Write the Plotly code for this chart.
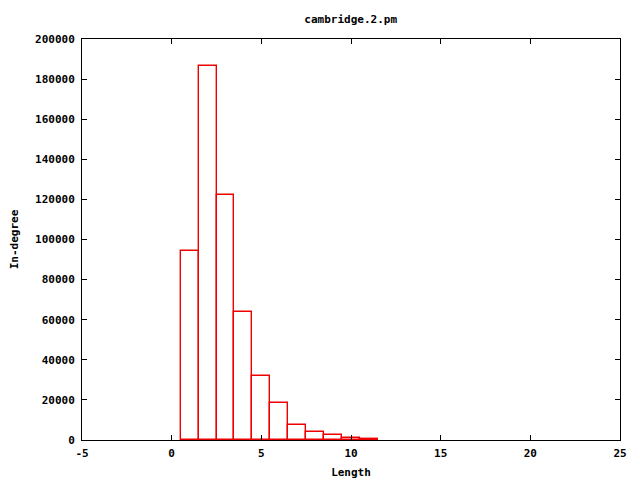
import plotly.graph_objects as go

lengths = [1, 2, 3, 4, 5, 6, 7, 8, 9, 10, 11]
indegree = [94300, 186400, 122300, 63800, 31800, 18300, 7300, 4000, 2600, 1150, 600]

title_text = "cambridge.2.pm"
x_label = "Length"
y_label = "In-degree"
x_ticks = [-5, 0, 5, 10, 15, 20, 25]
y_ticks = [0, 20000, 40000, 60000, 80000, 100000, 120000, 140000, 160000, 180000, 200000]

font_family = "DejaVu Sans Mono"
bold_font = dict(family=font_family, size=11, color="black", weight="bold")

fig = go.Figure()
fig.add_trace(go.Bar(
    x=lengths,
    y=indegree,
    width=1,
    marker=dict(color="rgba(0,0,0,0)", line=dict(color="#ee0000", width=1.4)),
    showlegend=False,
    hoverinfo="skip",
))

axis_common = dict(
    showline=True, linecolor="black", linewidth=1, mirror="ticks",
    ticks="inside", ticklen=5, tickcolor="black", tickwidth=1,
    showgrid=False, zeroline=False, automargin=False,
    tickfont=bold_font,
)

fig.update_layout(
    width=640, height=480,
    margin=dict(l=82, r=20, t=39, b=40),
    paper_bgcolor="white", plot_bgcolor="white",
    title=dict(text=title_text, x=0.548, xanchor="center", y=0.96, yanchor="middle",
               yref="container", font=bold_font),
    xaxis=dict(range=[-5, 25], tickvals=x_ticks, ticktext=[str(v) for v in x_ticks],
               ticklabelstandoff=3,
               title=dict(text=x_label, standoff=9, font=bold_font),
               **axis_common),
    yaxis=dict(range=[0, 200000], tickvals=y_ticks, ticktext=[str(v) for v in y_ticks],
               ticklabelstandoff=4,
               title=dict(text=y_label, standoff=14, font=bold_font),
               **axis_common),
    bargap=0,
)

fig.write_html("out.html", config={"displayModeBar": False},
               post_script="document.body.style.margin='0';")
